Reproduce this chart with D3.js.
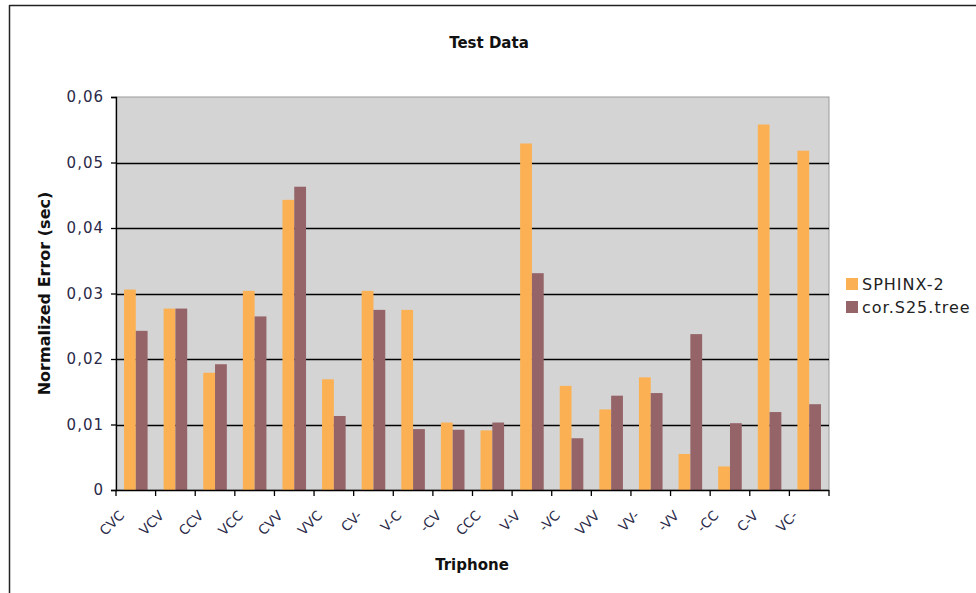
<!DOCTYPE html>
<html><head><meta charset="utf-8">
<script src="https://cdn.jsdelivr.net/npm/d3@7/dist/d3.min.js"></script>
<style>body{margin:0;background:#fff;}svg{display:block;}</style>
</head><body>
<svg id="c" width="976" height="593"></svg>
<script>
const categories = ["CVC","VCV","CCV","VCC","CVV","VVC","CV-","V-C","-CV","CCC","V-V","-VC","VVV","VV-","-VV","-CC","C-V","VC-"];
const sphinx2 = [0.0306,0.0277,0.0179,0.0304,0.0443,0.0169,0.0304,0.0275,0.0103,0.0091,0.0529,0.0159,0.0123,0.0172,0.0055,0.0036,0.0558,0.0518];
const corS25 = [0.0243,0.0277,0.0192,0.0265,0.0463,0.0113,0.0275,0.0093,0.0092,0.0103,0.0331,0.0079,0.0144,0.0148,0.0238,0.0102,0.0119,0.0131];
const seriesNames = ["SPHINX-2","cor.S25.tree"];
const yTicks = [0,0.01,0.02,0.03,0.04,0.05,0.06];
const colors = ["#FBB153","#956468"];

const svg = d3.select("#c");
const L = 116, R = 829, T = 97, B = 490;
const font = "'DejaVu Sans', Verdana, sans-serif";

// outer frame (top & left visible)
svg.append("line").attr("x1",9.5).attr("x2",976).attr("y1",5.5).attr("y2",5.5).attr("stroke","#222").attr("stroke-width",1.5);
svg.append("line").attr("x1",9.5).attr("x2",9.5).attr("y1",5).attr("y2",593).attr("stroke","#222").attr("stroke-width",1.5);

const x = d3.scaleBand().domain(categories).range([L,R]).paddingInner(0).paddingOuter(0);
const y = d3.scaleLinear().domain([0,0.06]).range([B,T]);
const inner = d3.scaleBand().domain(seriesNames).range([0,x.bandwidth()]).paddingInner(0).paddingOuter(0.68);

// plot background
svg.append("rect").attr("x",L).attr("y",T).attr("width",R-L).attr("height",B-T).attr("fill","#D4D4D4").attr("stroke","#9a9a9a").attr("stroke-width",1);

// gridlines
svg.append("g").selectAll("line").data(yTicks.filter(d=>d>0 && d<0.06)).join("line")
  .attr("x1",L).attr("x2",R).attr("y1",d=>Math.round(y(d))+0.5).attr("y2",d=>Math.round(y(d))+0.5)
  .attr("stroke","#000").attr("stroke-width",1.3);

// bars
const data = categories.map((c,i)=>({c, vals:[sphinx2[i],corS25[i]]}));
const g = svg.append("g").selectAll("g").data(data).join("g").attr("transform",d=>`translate(${x(d.c)},0)`);
g.selectAll("rect").data(d=>d.vals.map((v,k)=>({v,k}))).join("rect")
  .attr("x",d=>inner(seriesNames[d.k])).attr("width",inner.bandwidth())
  .attr("y",d=>y(d.v)).attr("height",d=>B-y(d.v)).attr("fill",d=>colors[d.k]);

// y axis
const yAxis = d3.axisLeft(y).tickValues(yTicks).tickSize(5).tickPadding(7)
  .tickFormat(d=> d===0 ? "0" : d3.format(".2f")(d).replace(".",","));
const ya = svg.append("g").attr("transform",`translate(${L},0)`).call(yAxis);
ya.select(".domain").attr("stroke","#000").attr("stroke-width",1.3);
ya.selectAll(".tick line").attr("stroke","#000").attr("stroke-width",1.3);
ya.selectAll("text").attr("font-family",font).attr("font-size",15).attr("letter-spacing",1).attr("fill","#2a2a48");

// x axis
const xa = svg.append("g").attr("transform",`translate(0,${B})`);
xa.append("line").attr("x1",L).attr("x2",R).attr("y1",0.5).attr("y2",0.5).attr("stroke","#000").attr("stroke-width",1.5);
const bounds = d3.range(categories.length+1).map(i=>L + i*x.step());
xa.selectAll(".tk").data(bounds).join("line").attr("class","tk")
  .attr("x1",d=>d).attr("x2",d=>d).attr("y1",0).attr("y2",6).attr("stroke","#000").attr("stroke-width",1.3);
xa.selectAll("text").data(categories).join("text")
  .attr("transform",d=>`translate(${x(d)+x.bandwidth()/2-14},${23}) rotate(-45)`)
  .attr("text-anchor","end").attr("dy","0.35em")
  .attr("font-family",font).attr("font-size",13.5).attr("fill","#2a2a48").text(d=>d);

// titles
svg.append("text").attr("x",489).attr("y",48).attr("text-anchor","middle")
  .attr("font-family",font).attr("font-weight","bold").attr("font-size",15).attr("fill","#111").text("Test Data");
svg.append("text").attr("x",472).attr("y",570).attr("text-anchor","middle")
  .attr("font-family",font).attr("font-weight","bold").attr("font-size",15).attr("fill","#111").text("Triphone");
svg.append("text").attr("transform",`translate(50,${(T+B)/2}) rotate(-90)`).attr("text-anchor","middle")
  .attr("font-family",font).attr("font-weight","bold").attr("font-size",16).attr("fill","#111").text("Normalized Error (sec)");

// legend
const lg = svg.append("g").attr("transform","translate(846,278)");
seriesNames.forEach((s,i)=>{
  lg.append("rect").attr("x",0).attr("y",i*23).attr("width",12).attr("height",12).attr("fill",colors[i]);
  lg.append("text").attr("x",16).attr("y",i*23+6).attr("dy","0.36em")
    .attr("font-family",font).attr("font-size",16).attr("letter-spacing",1).attr("fill","#222").text(s);
});
</script>
</body></html>
